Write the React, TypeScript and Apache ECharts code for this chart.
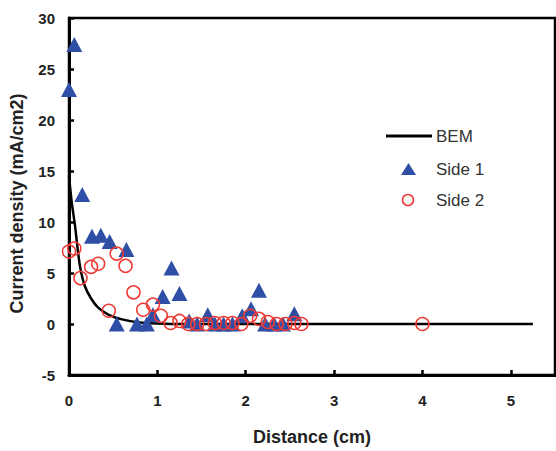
import React, { useEffect, useRef } from "react";
import * as echarts from "echarts";

const xTicks = [0, 1, 2, 3, 4, 5];
const yTicks = [-5, 0, 5, 10, 15, 20, 25, 30];

const bem: [number, number][] = [
  [0, 14.5], [0.03, 12], [0.07, 9.5], [0.1, 7.2], [0.13, 5.4], [0.18, 3.7],
  [0.25, 2.5], [0.33, 1.6], [0.45, 0.9], [0.6, 0.45], [0.8, 0.15], [1.0, 0.05],
  [1.3, 0], [5.25, 0],
];

const side1: [number, number][] = [
  [0, 23.0], [0.06, 27.4], [0.15, 12.7], [0.26, 8.6], [0.36, 8.7], [0.46, 8.1],
  [0.65, 7.3], [0.54, 0], [0.77, 0], [0.88, 0], [0.95, 0.9], [1.06, 2.7],
  [1.16, 5.5], [1.25, 3.0], [1.36, 0.3], [1.45, 0], [1.57, 0.9], [1.65, 0],
  [1.75, 0], [1.85, 0], [1.96, 0.8], [2.06, 1.5], [2.15, 3.3], [2.22, 0],
  [2.32, 0], [2.42, 0], [2.55, 1.0],
];

const side2: [number, number][] = [
  [0, 7.1], [0.06, 7.4], [0.13, 4.5], [0.25, 5.6], [0.33, 5.9], [0.45, 1.3],
  [0.54, 6.9], [0.64, 5.7], [0.73, 3.1], [0.84, 1.4], [0.95, 1.9], [1.04, 0.8],
  [1.15, 0.1], [1.25, 0.3], [1.35, 0], [1.45, 0], [1.55, 0], [1.65, 0.1],
  [1.75, 0.1], [1.85, 0.1], [1.95, 0], [2.05, 0.8], [2.15, 0.5], [2.25, 0.2],
  [2.35, 0], [2.45, 0], [2.55, 0.1], [2.63, 0], [4.0, 0],
];

const legendNames = ["BEM", "Side 1", "Side 2"];

const FONT = "'Liberation Sans', Arial, sans-serif";
const BLUE = "#2f4fa6";
const RED = "#f03a34";

export default function App() {
  const ref = useRef<HTMLDivElement>(null);
  useEffect(() => {
    if (!ref.current) return;
    const chart = echarts.init(ref.current, undefined, { renderer: "svg" });
    chart.setOption({
      animation: false,
      backgroundColor: "#ffffff",
      grid: {
        left: 69, top: 18, right: 1, bottom: 73,
        show: true, borderColor: "#000", borderWidth: 2.5, backgroundColor: "transparent",
      },
      xAxis: {
        type: "value", min: 0, max: 5.5, interval: 1,
        name: "Distance (cm)", nameLocation: "middle", nameGap: 53,
        nameTextStyle: { fontFamily: FONT, fontWeight: "bold", fontSize: 18, color: "#222" },
        axisLine: { show: true, onZero: false, lineStyle: { color: "#000", width: 3 } },
        axisTick: { show: true, inside: true, length: 5, lineStyle: { color: "#000", width: 2.5 } },
        axisLabel: {
          margin: 18, fontFamily: FONT, fontWeight: "bold", fontSize: 15, color: "#222",
          showMaxLabel: false,
          formatter: (v: number) => (xTicks.includes(v) ? String(v) : ""),
        },
        splitLine: { show: false },
      },
      yAxis: {
        type: "value", min: -5, max: 30, interval: 5,
        name: "Current density (mA/cm2)", nameLocation: "middle", nameGap: 43,
        nameTextStyle: {
          fontFamily: FONT, fontWeight: "bold", fontSize: 18, color: "#222",
          padding: [0, 14, 0, 0],
        },
        axisLine: { show: true, lineStyle: { color: "#000", width: 3 } },
        axisTick: { show: true, inside: true, length: 5, lineStyle: { color: "#000", width: 2.5 } },
        axisLabel: {
          margin: 14, fontFamily: FONT, fontWeight: "bold", fontSize: 15, color: "#222",
          formatter: (v: number) => (yTicks.includes(v) ? String(v) : ""),
        },
        splitLine: { show: false },
      },
      series: [
        {
          name: legendNames[0], type: "line", data: bem, smooth: 0.3, showSymbol: false,
          lineStyle: { color: "#000", width: 2.5 }, z: 2,
        },
        {
          name: legendNames[1], type: "scatter", data: side1, symbol: "triangle",
          symbolSize: [16, 15], clip: false,
          itemStyle: { color: BLUE, opacity: 1 }, z: 3,
        },
        {
          name: legendNames[2], type: "scatter", data: side2, symbol: "circle",
          symbolSize: 13, clip: false,
          itemStyle: { color: "transparent", borderColor: RED, borderWidth: 1.5, opacity: 1 }, z: 4,
        },
      ],
      graphic: [
        { type: "line", shape: { x1: 386, y1: 136, x2: 432, y2: 136 }, style: { stroke: "#000", lineWidth: 3 } },
        { type: "text", x: 436, y: 136, style: { text: legendNames[0], font: `17px ${FONT}`, fill: "#333", verticalAlign: "middle" } },
        { type: "polygon", shape: { points: [[401, 175], [416, 175], [408.5, 163]] }, style: { fill: BLUE } },
        { type: "text", x: 436, y: 169, style: { text: legendNames[1], font: `17px ${FONT}`, fill: "#333", verticalAlign: "middle" } },
        { type: "circle", shape: { cx: 408, cy: 200, r: 5.5 }, style: { fill: "none", stroke: RED, lineWidth: 1.5 } },
        { type: "text", x: 436, y: 200, style: { text: legendNames[2], font: `17px ${FONT}`, fill: "#333", verticalAlign: "middle" } },
      ],
    });
    return () => chart.dispose();
  }, []);
  return (
    <div
      ref={ref}
      style={{ position: "fixed", left: 0, top: 0, width: 556, height: 451 }}
    />
  );
}
